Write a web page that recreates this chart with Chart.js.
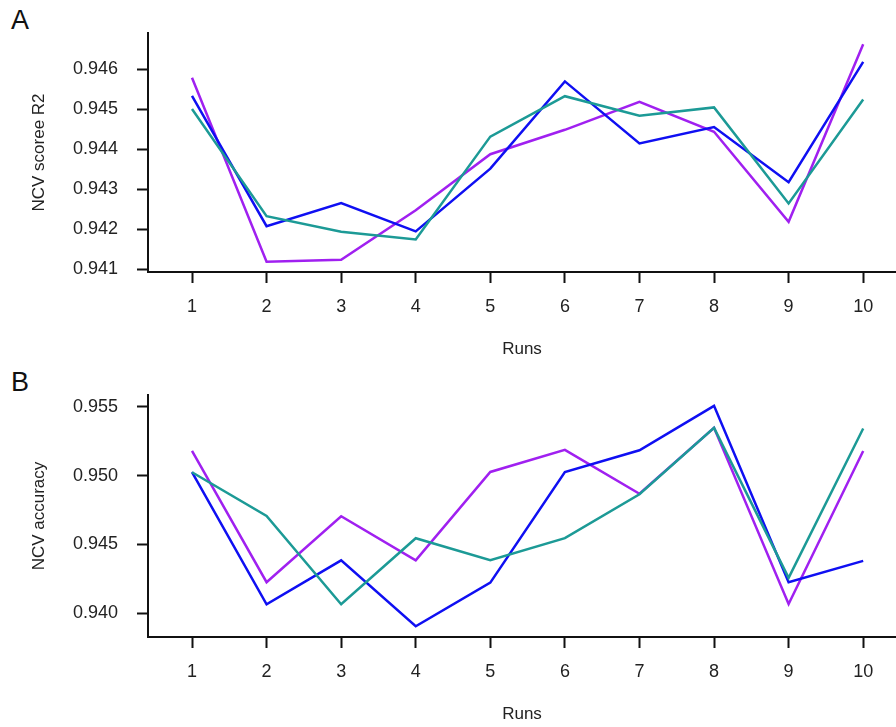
<!DOCTYPE html>
<html>
<head>
<meta charset="utf-8">
<title>NCV runs</title>
<script src="https://cdn.jsdelivr.net/npm/chart.js@4.4.1/dist/chart.umd.min.js"></script>
<style>
  html, body { margin: 0; padding: 0; background: #fff; }
  #page { position: relative; width: 896px; height: 727px; overflow: hidden; font-family: "Liberation Sans", Arial, sans-serif; }
  .panel { position: absolute; left: 0; }
  .tag { position: absolute; left: 11px; font-size: 27px; line-height: 27px; color: #111; }
</style>
</head>
<body>
<div id="page">
  <div class="tag" style="top:7px">A</div>
  <div class="tag" style="top:369px">B</div>
  <canvas id="graficoA" class="panel" style="top:0" width="896" height="362"></canvas>
  <canvas id="graficoB" class="panel" style="top:362px" width="896" height="365"></canvas>
</div>
<script>
// dados
const runs = [1, 2, 3, 4, 5, 6, 7, 8, 9, 10];

const r2Teal   = [0.94500, 0.94232, 0.94193, 0.94174, 0.94431, 0.94532, 0.94483, 0.94504, 0.94264, 0.94524];
const r2Blue   = [0.94533, 0.94207, 0.94265, 0.94194, 0.94351, 0.94569, 0.94414, 0.94455, 0.94317, 0.94618];
const r2Purple = [0.94578, 0.94118, 0.94123, 0.94247, 0.94387, 0.94448, 0.94518, 0.94443, 0.94218, 0.94662];

const accTeal   = [0.95025, 0.94707, 0.94064, 0.94545, 0.94384, 0.94545, 0.94865, 0.95348, 0.94256, 0.95343];
const accBlue   = [0.95025, 0.94064, 0.94384, 0.93904, 0.94222, 0.95027, 0.95185, 0.95508, 0.94225, 0.94380];
const accPurple = [0.95180, 0.94225, 0.94705, 0.94384, 0.95027, 0.95188, 0.94868, 0.95348, 0.94066, 0.95180];

const yTicksA = [0.941, 0.942, 0.943, 0.944, 0.945, 0.946];
const yTicksB = [0.940, 0.945, 0.950, 0.955];

const corTeal = '#1c9a96';
const corBlue = '#0f0ff2';
const corPurple = '#a020f0';
const corTexto = '#222';

function serie(valores, cor) {
    return {
        data: runs.map((r, i) => ({x: r, y: valores[i]})),
        borderColor: cor,
        backgroundColor: cor,
        borderWidth: 2.5,
        pointRadius: 0,
        tension: 0,
        fill: false
    };
}

function desenharPainel(id, datasets, yTicks, yMin, yMax, tituloY) {
    const ctx = document.getElementById(id).getContext('2d');
    return new Chart(ctx, {
        type: 'line',
        data: { datasets: datasets },
        options: {
            responsive: false,
            animation: false,
            layout: { padding: { top: 33, left: 0, right: 0, bottom: 0 } },
            plugins: { legend: { display: false }, tooltip: { enabled: false } },
            scales: {
                x: {
                    type: 'linear',
                    min: 0.41,
                    max: 10.44,
                    afterBuildTicks: function(scale) {
                        scale.ticks = runs.map(v => ({value: v}));
                    },
                    afterFit: function(scale) { scale.height = 90; },
                    grid: {
                        drawOnChartArea: false,
                        drawTicks: true,
                        tickLength: 11,
                        tickWidth: 2,
                        tickColor: '#111'
                    },
                    border: { display: true, color: '#111', width: 2 },
                    ticks: {
                        color: corTexto,
                        padding: 13,
                        maxRotation: 0,
                        autoSkip: false,
                        font: { family: '"Liberation Sans", Arial, sans-serif', size: 18 },
                        callback: v => String(v)
                    },
                    title: {
                        display: true,
                        text: 'Runs',
                        color: corTexto,
                        padding: { top: 0, bottom: 2 },
                        font: { family: '"Liberation Sans", Arial, sans-serif', size: 17 }
                    }
                },
                y: {
                    type: 'linear',
                    min: yMin,
                    max: yMax,
                    afterBuildTicks: function(scale) {
                        scale.ticks = yTicks.map(v => ({value: v}));
                    },
                    afterFit: function(scale) { scale.width = 148; },
                    grid: {
                        drawOnChartArea: false,
                        drawTicks: true,
                        tickLength: 11,
                        tickWidth: 2,
                        tickColor: '#111'
                    },
                    border: { display: true, color: '#111', width: 2 },
                    ticks: {
                        color: corTexto,
                        padding: 19,
                        autoSkip: false,
                        font: { family: '"Liberation Sans", Arial, sans-serif', size: 18 },
                        callback: v => v.toFixed(3)
                    },
                    title: {
                        display: true,
                        text: tituloY,
                        color: corTexto,
                        padding: { top: 29, bottom: 0 },
                        font: { family: '"Liberation Sans", Arial, sans-serif', size: 17 }
                    }
                }
            }
        }
    });
}

desenharPainel('graficoA',
    [serie(r2Teal, corTeal), serie(r2Blue, corBlue), serie(r2Purple, corPurple)],
    yTicksA, 0.940925, 0.9469, 'NCV scoree R2');

desenharPainel('graficoB',
    [serie(accTeal, corTeal), serie(accBlue, corBlue), serie(accPurple, corPurple)],
    yTicksB, 0.93826, 0.95587, 'NCV accuracy');
</script>
</body>
</html>
